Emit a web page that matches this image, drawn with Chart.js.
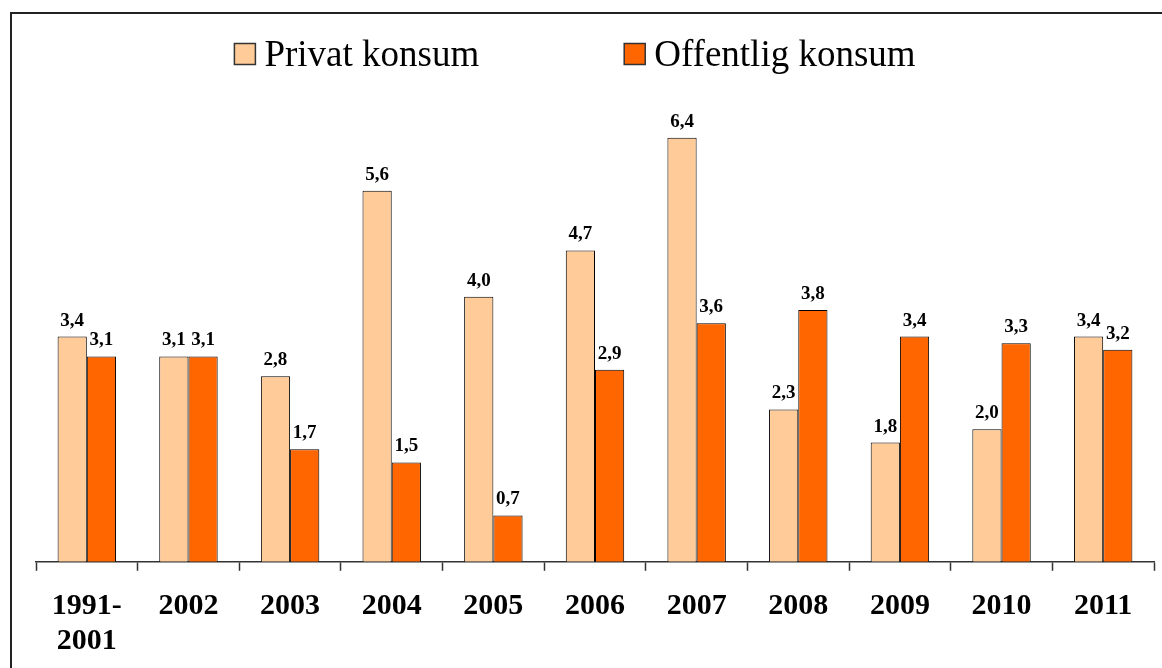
<!DOCTYPE html>
<html>
<head>
<meta charset="utf-8">
<script src="https://cdn.jsdelivr.net/npm/chart.js@4"></script>
<style>
  body { margin: 0; background: #fff; }
  canvas { display: block; }
</style>
</head>
<body>
<canvas id="chart" width="1162" height="668"></canvas>
<script>
// data
const categories = [["1991-", "2001"], "2002", "2003", "2004", "2005", "2006", "2007", "2008", "2009", "2010", "2011"];
const privat = [3.4, 3.1, 2.8, 5.6, 4.0, 4.7, 6.4, 2.3, 1.8, 2.0, 3.4];
const offentlig = [3.1, 3.1, 1.7, 1.5, 0.7, 2.9, 3.6, 3.8, 3.4, 3.3, 3.2];
const seriesNames = ["Privat konsum", "Offentlig konsum"];

const serif = "'Liberation Serif', 'Times New Roman', serif";

// frame lines (top and left) like the original slide
const framePlugin = {
    id: "frame",
    beforeDraw(chart) {
        const ctx = chart.ctx;
        ctx.save();
        ctx.fillStyle = "#fff";
        ctx.fillRect(0, 0, chart.width, chart.height);
        ctx.fillStyle = "#222";
        ctx.fillRect(10, 12, chart.width - 10, 2);
        ctx.fillRect(10, 12, 2, chart.height - 12);
        ctx.restore();
    }
};

// values above bars
const valueLabels = {
    id: "valueLabels",
    afterDatasetsDraw(chart) {
        const ctx = chart.ctx;
        ctx.save();
        ctx.font = "bold 19px " + serif;
        ctx.fillStyle = "#000";
        ctx.textAlign = "center";
        ctx.textBaseline = "alphabetic";
        chart.data.datasets.forEach((ds, i) => {
            chart.getDatasetMeta(i).data.forEach((bar, j) => {
                const txt = ds.data[j].toFixed(1).replace(".", ",");
                ctx.fillText(txt, bar.x, bar.y - 11);
            });
        });
        ctx.restore();
    }
};

// legend at the top
const topLegend = {
    id: "topLegend",
    afterDraw(chart) {
        const ctx = chart.ctx;
        ctx.save();
        ctx.font = "37px " + serif;
        const box = 21, gap = 9, between = 145;
        const widths = chart.data.datasets.map(ds => box + gap + ctx.measureText(ds.label).width);
        const total = widths.reduce((a, b) => a + b, 0) + between;
        let x = 575 - total / 2;
        const y = 54;
        chart.data.datasets.forEach((ds, i) => {
            ctx.fillStyle = ds.backgroundColor;
            ctx.fillRect(x, y - box / 2, box, box);
            ctx.strokeStyle = "#333";
            ctx.lineWidth = 1.5;
            ctx.strokeRect(x, y - box / 2, box, box);
            ctx.fillStyle = "#000";
            ctx.textBaseline = "middle";
            ctx.fillText(ds.label, x + box + gap, y + 2);
            x += widths[i] + between;
        });
        ctx.restore();
    }
};

new Chart(document.getElementById("chart"), {
    type: "bar",
    data: {
        labels: categories,
        datasets: [
            { label: seriesNames[0], data: privat, backgroundColor: "#FFCC99", borderColor: "#000", borderWidth: 1 },
            { label: seriesNames[1], data: offentlig, backgroundColor: "#FF6600", borderColor: "#000", borderWidth: 1 }
        ]
    },
    options: {
        responsive: false,
        animation: false,
        layout: { padding: { left: 36, right: 8, top: 98, bottom: -9 } },
        datasets: { bar: { categoryPercentage: 0.575, barPercentage: 1 } },
        plugins: { legend: { display: false }, tooltip: { enabled: false } },
        scales: {
            y: { display: false, min: 0, max: 7 },
            x: {
                grid: { offset: true, drawOnChartArea: false, tickLength: 9, tickColor: "#333", tickWidth: 1.5 },
                border: { color: "#333", width: 1.5 },
                ticks: {
                    color: "#000",
                    padding: 18,
                    maxRotation: 0,
                    autoSkip: false,
                    font: { family: serif, size: 30, weight: "bold", lineHeight: 1.17 }
                }
            }
        }
    },
    plugins: [framePlugin, valueLabels, topLegend]
});
</script>
</body>
</html>
